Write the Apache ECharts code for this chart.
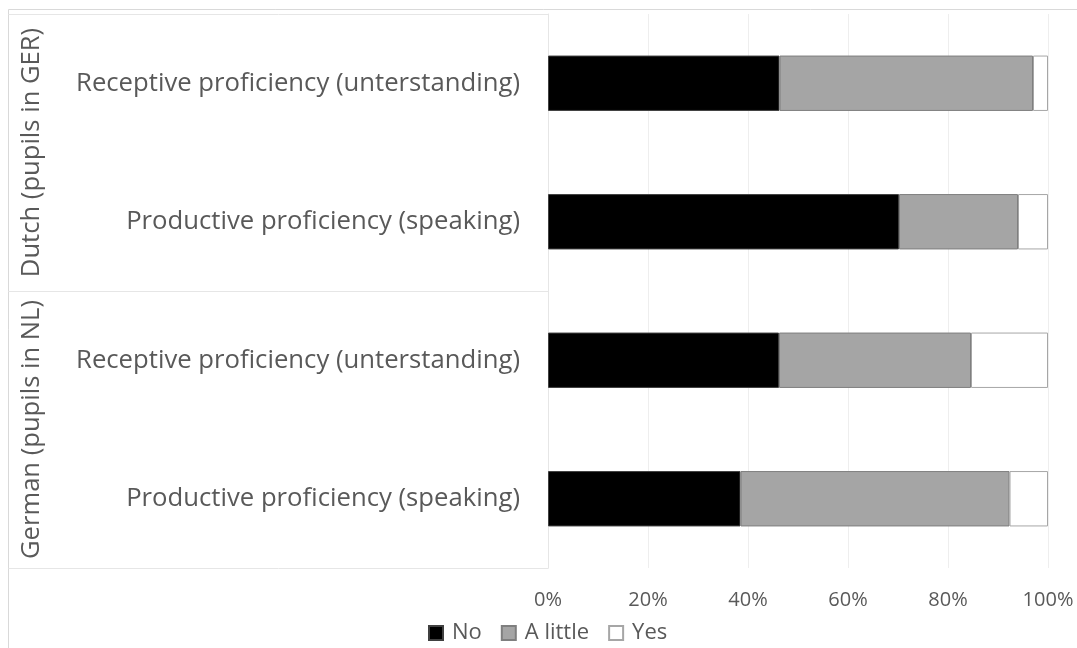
<!DOCTYPE html>
<html>
<head>
<meta charset="utf-8">
<script src="https://cdn.jsdelivr.net/npm/echarts@6/dist/echarts.min.js"></script>
<style>
  html, body { margin: 0; padding: 0; background: #ffffff; }
  #chart { width: 1077px; height: 648px; }
</style>
</head>
<body>
<div id="chart"></div>
<script>
// Language groups, each covering two rows of the chart (top to bottom)
const groups = ['Dutch (pupils in GER)', 'German (pupils in NL)'];
// Row labels (top to bottom)
const categories = [
  'Receptive proficiency (unterstanding)',
  'Productive proficiency (speaking)',
  'Receptive proficiency (unterstanding)',
  'Productive proficiency (speaking)'
];
// Share of answers per row, in percent
const noValues      = [46.3, 70.2, 46.2, 38.5];
const aLittleValues = [50.7, 23.8, 38.4, 53.8];
const yesValues     = [3.0, 6.0, 15.4, 7.7];
// Value axis ticks
const tickMin = 0, tickMax = 100, tickStep = 20;

const FONT = '"Open Sans", Lato, sans-serif';
const TEXT = '#595959';

const chart = echarts.init(document.getElementById('chart'), null, { renderer: 'canvas' });

function seriesOf(name, data, fill, border) {
  return {
    name: name,
    type: 'bar',
    stack: 'total',
    data: data,
    barWidth: '40%',
    itemStyle: { color: fill, borderColor: border, borderWidth: 1 },
    emphasis: { disabled: true }
  };
}

const option = {
  animation: false,
  backgroundColor: '#ffffff',
  grid: { left: 548, right: 29, top: 14, bottom: 80, containLabel: false },
  xAxis: {
    type: 'value',
    min: tickMin, max: tickMax, interval: tickStep,
    axisLine: { show: false },
    axisTick: { show: false },
    splitLine: { show: true, lineStyle: { color: '#eeeeee', width: 1 } },
    axisLabel: {
      formatter: '{value}%',
      color: TEXT, fontFamily: FONT, fontSize: 20, margin: 22
    }
  },
  yAxis: {
    type: 'category',
    data: categories,
    inverse: true,
    axisLine: { show: true, lineStyle: { color: '#e6e6e6', width: 1 } },
    axisTick: { show: false },
    splitLine: { show: false },
    axisLabel: {
      color: TEXT, fontFamily: FONT, fontSize: 25.7, margin: 28
    }
  },
  legend: {
    data: ['No', 'A little', 'Yes'],
    left: 428, top: 622, padding: 0,
    icon: 'rect',
    itemWidth: 14, itemHeight: 14, itemGap: 19,
    textStyle: { color: TEXT, fontFamily: FONT, fontSize: 22, padding: [0, 0, 0, 4] }
  },
  series: [
    seriesOf('No', noValues, '#000000', '#404040'),
    seriesOf('A little', aLittleValues, '#a5a5a5', '#7f7f7f'),
    seriesOf('Yes', yesValues, '#ffffff', '#a6a6a6')
  ]
};

chart.setOption(option);

// Group frame on the left: dividers between groups and rotated group names,
// placed from the category axis positions.
const c0 = chart.convertToPixel({ yAxisIndex: 0 }, 0);
const c1 = chart.convertToPixel({ yAxisIndex: 0 }, 1);
const band = c1 - c0;
const axisX = Math.round(chart.convertToPixel({ xAxisIndex: 0 }, tickMin)) + 0.5;
const frameX = 8.5;
const graphics = [
  {
    type: 'rect', silent: true, z: 0,
    shape: { x: frameX, y: 9.5, width: 1200, height: 800 },
    style: { fill: null, stroke: '#d9d9d9', lineWidth: 1 }
  }
];
groups.forEach(function (g, i) {
  const top = chart.convertToPixel({ yAxisIndex: 0 }, 2 * i) - band / 2;
  const bottom = chart.convertToPixel({ yAxisIndex: 0 }, 2 * i + 1) + band / 2;
  [top, bottom].forEach(function (y) {
    const yy = Math.round(y) + 0.5;
    graphics.push({
      type: 'line', silent: true, z: 1,
      shape: { x1: frameX, y1: yy, x2: axisX, y2: yy },
      style: { stroke: '#e6e6e6', lineWidth: 1 }
    });
  });
  graphics.push({
    type: 'text', silent: true, z: 2,
    x: 32, y: (top + bottom) / 2,
    rotation: Math.PI / 2,
    style: {
      text: g, fill: TEXT, font: '25.6px ' + FONT,
      align: 'center', verticalAlign: 'middle'
    }
  });
});
chart.setOption({ graphic: graphics });
</script>
</body>
</html>
